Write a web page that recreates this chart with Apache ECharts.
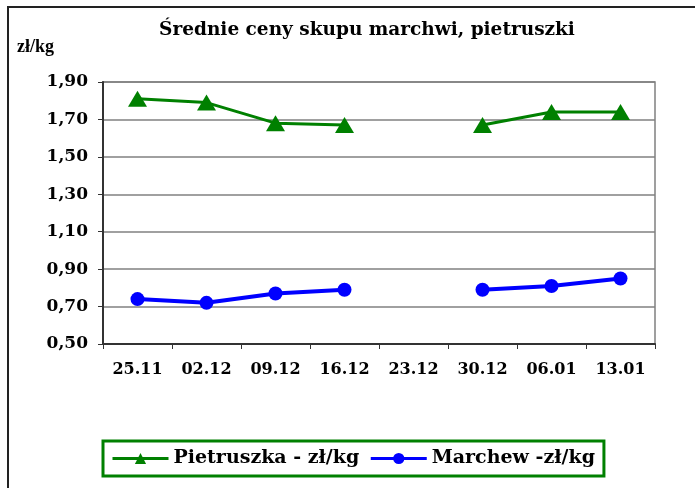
<!DOCTYPE html>
<html>
<head>
<meta charset="utf-8">
<script src="https://cdn.jsdelivr.net/npm/echarts@6/dist/echarts.min.js"></script>
<style>
    html, body { margin: 0; padding: 0; background: #fff; }
    #chart { width: 695px; height: 488px; }
</style>
</head>
<body>
<div id="chart"></div>
<script>
// dane
const dates = ['25.11', '02.12', '09.12', '16.12', '23.12', '30.12', '06.01', '13.01'];
const pietruszka = [1.81, 1.79, 1.68, 1.67, null, 1.67, 1.74, 1.74];
const marchew = [0.74, 0.72, 0.77, 0.79, null, 0.79, 0.81, 0.85];

const font = "'DejaVu Serif', 'Liberation Serif', serif";

let chart = echarts.init(document.getElementById('chart'));

chart.setOption({
    animation: false,
    backgroundColor: '#fff',
    textStyle: {
        fontFamily: font
    },
    title: {
        text: 'Średnie ceny skupu marchwi, pietruszki',
        left: 362,
        textAlign: 'center',
        top: 16,
        textStyle: {
            fontFamily: font,
            fontWeight: 'bold',
            fontSize: 18.5,
            color: '#000'
        }
    },
    graphic: [
        {
            type: 'rect',
            shape: {x: 8, y: 7, width: 720, height: 520},
            style: {fill: 'none', stroke: '#222', lineWidth: 2},
            silent: true
        },
        {
            type: 'text',
            left: 17,
            top: 38,
            style: {
                text: 'zł/kg',
                font: "bold 18px 'Liberation Serif', serif",
                fill: '#000'
            }
        }
    ],
    legend: {
        left: 103,
        top: 441,
        padding: [8, 9, 8, 8],
        borderColor: '#008000',
        borderWidth: 3,
        itemWidth: 56,
        itemHeight: 14,
        itemGap: 10,
        lineStyle: {width: 3},
        textStyle: {
            fontFamily: font,
            fontWeight: 'bold',
            fontSize: 19,
            color: '#000'
        },
        data: ['Pietruszka - zł/kg', 'Marchew -zł/kg']
    },
    grid: {
        left: 103,
        right: 40,
        top: 82,
        bottom: 144,
        show: true,
        borderColor: '#808080',
        borderWidth: 1.5
    },
    xAxis: {
        type: 'category',
        data: dates,
        boundaryGap: true,
        axisLine: {
            lineStyle: {color: '#333', width: 2}
        },
        axisTick: {
            show: true,
            length: 5,
            lineStyle: {color: '#333'}
        },
        axisLabel: {
            margin: 18,
            fontFamily: font,
            fontWeight: 'bold',
            fontSize: 16,
            color: '#000'
        }
    },
    yAxis: {
        type: 'value',
        min: 0.5,
        max: 1.9,
        interval: 0.2,
        axisLine: {
            show: true,
            lineStyle: {color: '#333', width: 2}
        },
        axisTick: {
            show: true,
            length: 5,
            lineStyle: {color: '#333'}
        },
        splitLine: {
            lineStyle: {color: '#808080', width: 1.5}
        },
        axisLabel: {
            margin: 15,
            fontFamily: font,
            fontWeight: 'bold',
            fontSize: 17,
            color: '#000',
            formatter: function (v) {
                return v.toFixed(2).replace('.', ',');
            }
        }
    },
    series: [
        {
            name: 'Pietruszka - zł/kg',
            type: 'line',
            data: pietruszka,
            symbol: 'triangle',
            symbolSize: [19, 16],
            color: '#008000',
            lineStyle: {color: '#008000', width: 3},
            itemStyle: {color: '#008000'}
        },
        {
            name: 'Marchew -zł/kg',
            type: 'line',
            data: marchew,
            symbol: 'circle',
            symbolSize: 14,
            color: '#0000ff',
            lineStyle: {color: '#0000ff', width: 4},
            itemStyle: {color: '#0000ff'}
        }
    ]
});
</script>
</body>
</html>
